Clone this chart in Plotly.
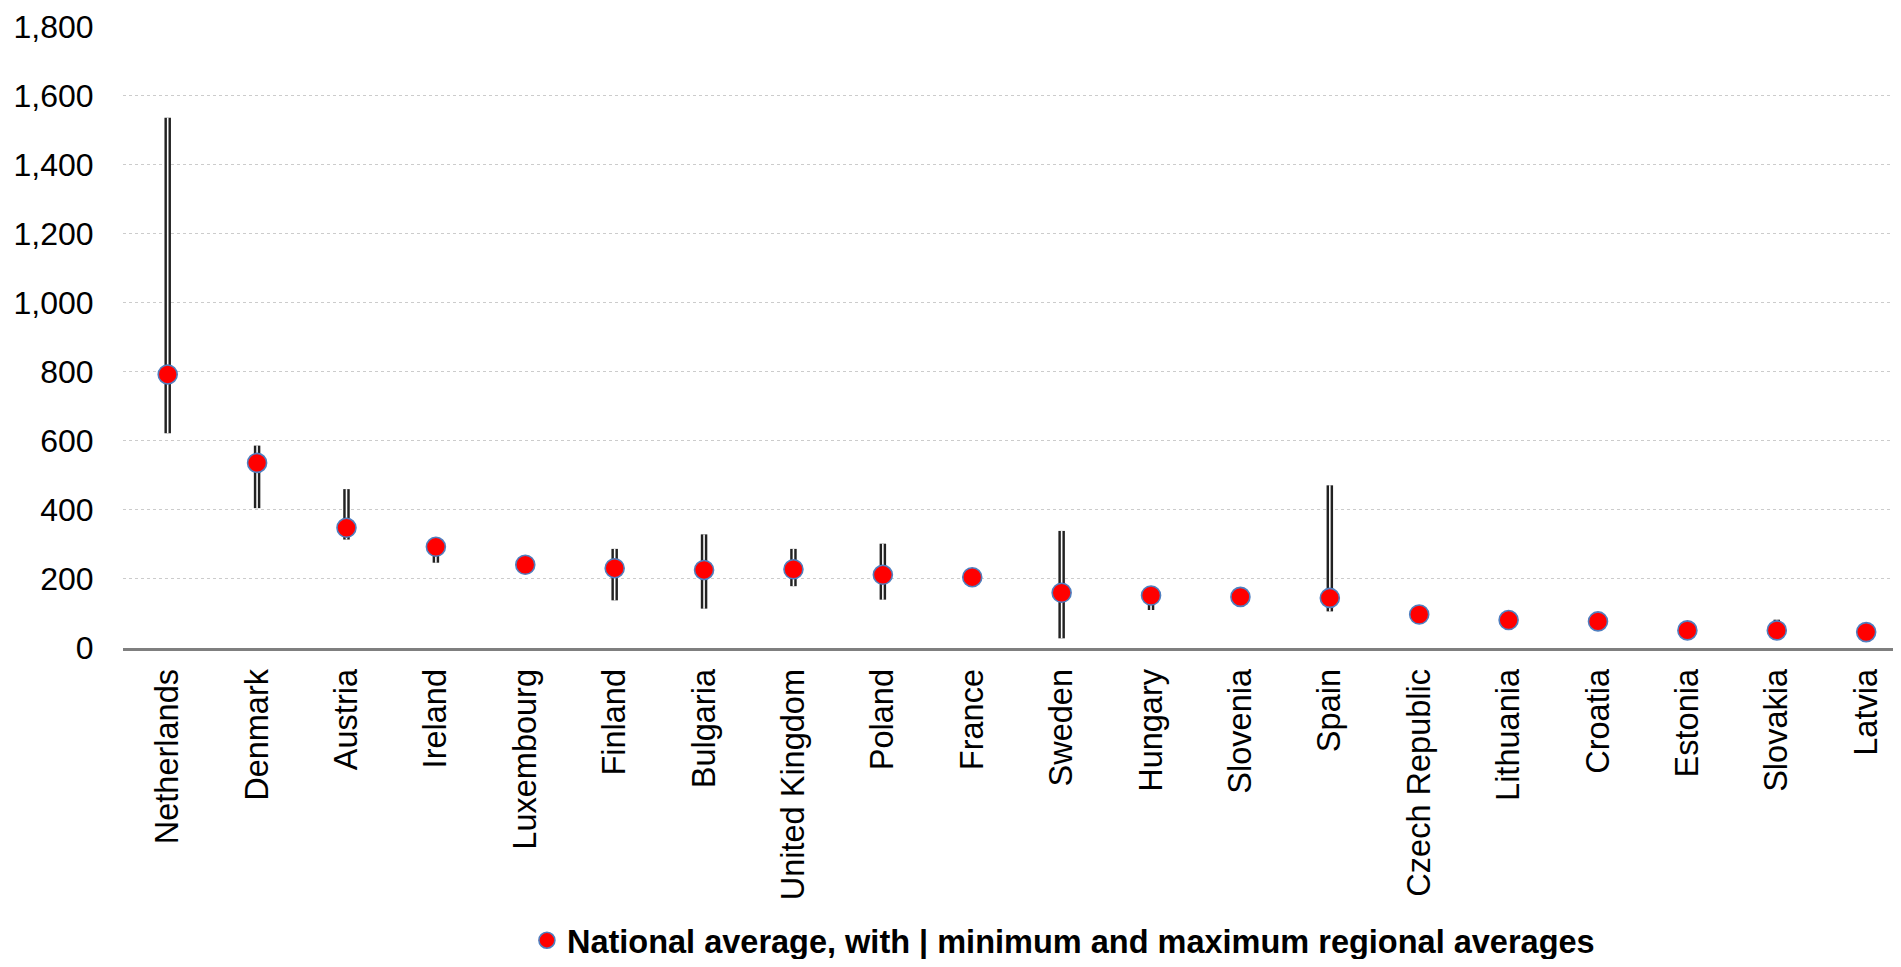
import plotly.graph_objects as go

categories = ["Netherlands", "Denmark", "Austria", "Ireland", "Luxembourg", "Finland",
              "Bulgaria", "United Kingdom", "Poland", "France", "Sweden", "Hungary",
              "Slovenia", "Spain", "Czech Republic", "Lithuania", "Croatia", "Estonia",
              "Slovakia", "Latvia"]
national_avg = [792, 536, 348, 293, 241, 231, 226, 228, 212, 205, 160, 152,
                148, 145, 97, 81, 77, 51, 51, 46]
regional_min = [622, 405, 314, 247, None, 138, 114, 179, 140, None, 28, 110,
                None, 106, None, None, None, None, 48, None]
regional_max = [1535, 586, 460, 305, None, 287, 329, 287, 302, None, 339, 165,
                None, 471, None, None, None, None, 82, None]
y_ticks = [0, 200, 400, 600, 800, 1000, 1200, 1400, 1600, 1800]
legend_label = "National average, with | minimum and maximum regional averages"

xs, ys = [], []
for c, lo, hi in zip(categories, regional_min, regional_max):
    if lo is None or hi is None:
        continue
    xs += [c, c, None]
    ys += [lo, hi, None]

fig = go.Figure()
fig.add_trace(go.Scatter(x=xs, y=ys, mode="lines", line=dict(color="#222222", width=6.5),
                         showlegend=False, hoverinfo="skip"))
fig.add_trace(go.Scatter(x=xs, y=ys, mode="lines", line=dict(color="white", width=1.6),
                         showlegend=False, hoverinfo="skip"))
fig.add_trace(go.Scatter(x=categories, y=national_avg, mode="markers",
                         marker=dict(color="#ff0000", size=19,
                                     line=dict(color="#4f7fc0", width=1.6)),
                         name="<b>" + legend_label + "</b>"))

font = "Liberation Sans, Arial, sans-serif"
fig.update_layout(
    width=1885, height=951,
    margin=dict(l=115, r=0, t=17.5, b=310.5, autoexpand=False),
    plot_bgcolor="white", paper_bgcolor="white",
    font=dict(family=font, size=32.5, color="#000000"),
    showlegend=True,
    legend=dict(orientation="h", x=0.2282, xanchor="left",
                y=-0.4705, yanchor="middle", font=dict(size=32.5, color="#000000"),
                bgcolor="rgba(0,0,0,0)"),
    xaxis=dict(type="category", categoryorder="array", categoryarray=categories,
               range=[-0.5, 19.3], showgrid=False, zeroline=False, automargin=False,
               showline=True, linecolor="#7f7f7f", linewidth=3,
               tickangle=-90, ticks="outside", ticklen=5, tickcolor="rgba(0,0,0,0)",
               tickfont=dict(size=32.5, color="#000000")),
    yaxis=dict(range=[0, 1801], tickvals=y_ticks, tickformat=",", automargin=False,
               showgrid=True, gridcolor="#cccccc", griddash="dot", gridwidth=1,
               zeroline=False, showline=False,
               ticks="outside", ticklen=22, tickcolor="rgba(0,0,0,0)",
               tickfont=dict(size=32, color="#000000")),
)

fig.write_html("out.html")
